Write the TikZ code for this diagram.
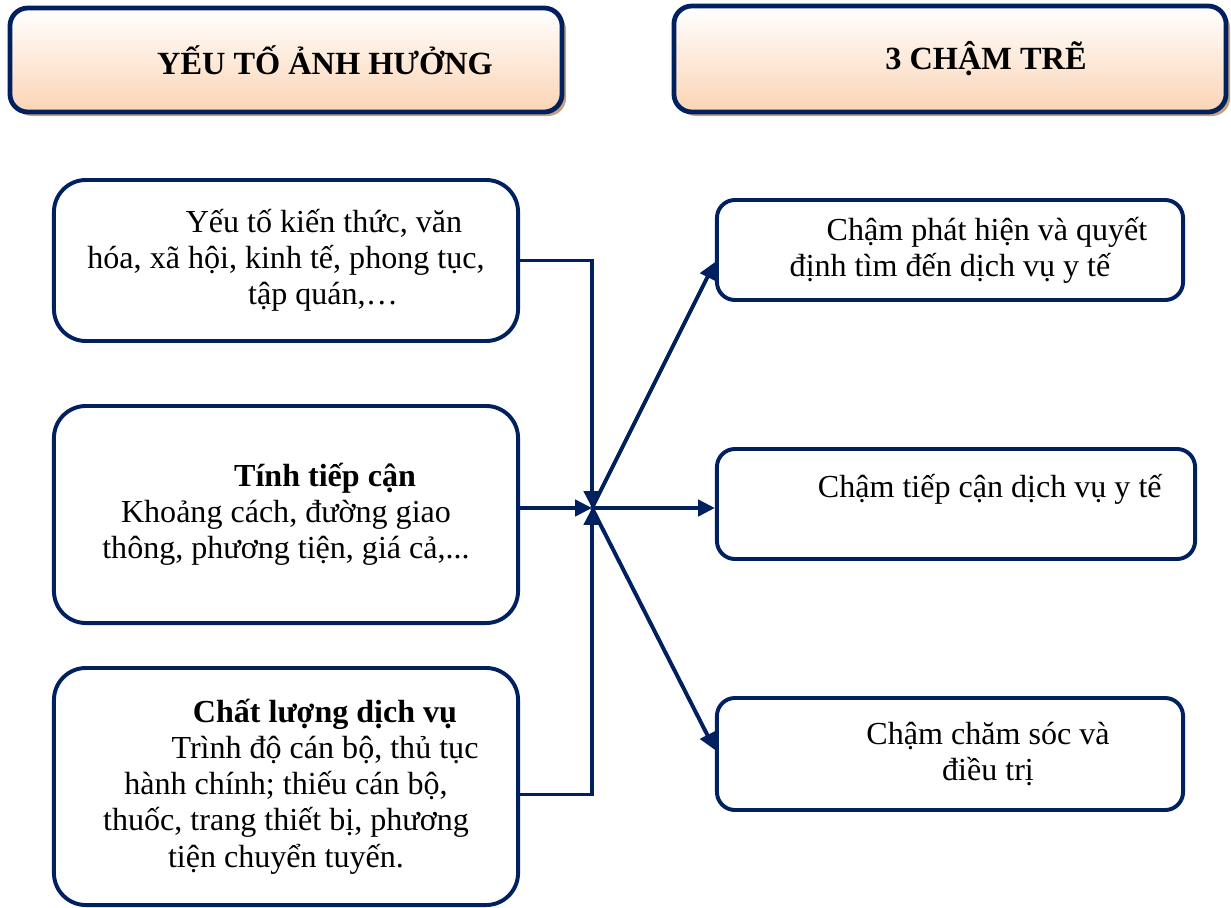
\documentclass[tikz,border=0pt]{standalone}
\usepackage{fontspec}
\setmainfont{Liberation Serif}
\usepackage{tikz}
\usetikzlibrary{arrows.meta,shadows}
\definecolor{navy}{HTML}{002060}
\definecolor{peach}{HTML}{FBD4B4}
\definecolor{shadowbrown}{HTML}{B98A5C}

\begin{document}
\begin{tikzpicture}[x=0.025cm,y=-0.025cm,
		every node/.style={font=\fontsize{22.8}{25.8}\selectfont},
		head/.style={draw=navy,line width=3.4pt,rounded corners=0.45cm,top color=white,bottom color=peach,
			minimum width=13.8cm,minimum height=2.6cm,font=\bfseries\fontsize{23}{27}\selectfont,
			drop shadow={shadow xshift=0.1cm,shadow yshift=-0.1cm,fill=shadowbrown,opacity=0.8}},
		factor/.style={draw=navy,line width=2.8pt,rounded corners=0.8cm,minimum width=11.6cm,align=center},
		delay/.style={draw=navy,line width=2.8pt,rounded corners=0.45cm,minimum width=11.65cm},
		conn/.style={draw=navy,line width=2.8pt,-{Triangle[length=0.42cm,width=0.4cm]}}]
			\useasboundingbox (0,0) rectangle (1231,908);
			\node[head] (yeuto) at (286,60) {\hspace*{1.95cm}YẾU TỐ ẢNH HƯỞNG};
			\node[head,minimum height=2.65cm] (chamtre) at (950,59) {\hspace*{1.8cm}3 CHẬM TRẼ};
			\node[factor,minimum height=4.025cm] (k1) at (286,260.5) {\hspace*{1.9cm}Yếu tố kiến thức, văn\\hóa, xã hội, kinh tế, phong tục,\\\hspace*{1.85cm}tập quán,…};
			\node[factor,minimum height=5.425cm] (k2) at (286,514.5) {\hspace*{1.95cm}\textbf{Tính tiếp cận}\\Khoảng cách, đường giao\\thông, phương tiện, giá cả,...};
			\node[factor,minimum height=5.925cm] (k3) at (286,786.5) {\hspace*{1.95cm}\textbf{Chất lượng dịch vụ}\\\hspace*{1.95cm}Trình độ cán bộ, thủ tục\\hành chính; thiếu cán bộ,\\thuốc, trang thiết bị, phương\\tiện chuyển tuyến.};
			\node[delay,minimum height=2.5cm,align=center] (c1) at (950,250) {\hspace*{1.85cm}Chậm phát hiện và quyết\\định tìm đến dịch vụ y tế};
			\node[delay,minimum width=11.95cm,minimum height=2.75cm,inner xsep=0.65cm,text width=10.65cm,align=flush left] (c2) at (956,504) {\hspace*{1.875cm}Chậm tiếp cận dịch vụ y tế\\~};
			\node[delay,minimum height=2.8cm,align=center] (c3) at (950,754) {\hspace*{1.9cm}Chậm chăm sóc và\\\hspace*{1.9cm}điều trị};
			\coordinate (hub) at (592,508);
			\draw[conn] (k1.east) -| (hub);
			\draw[conn] (k2.east |- hub) -- (hub);
			\draw[conn] ([yshift=-0.2cm]k3.east) -| (hub);
			\draw[conn] (hub) -- ([yshift=-0.3cm]c1.west);
			\draw[conn] (hub) -- (hub -| c2.west);
			\draw[conn] (hub) -- ([yshift=0.1cm]c3.west);
		\end{tikzpicture}
\end{document}
